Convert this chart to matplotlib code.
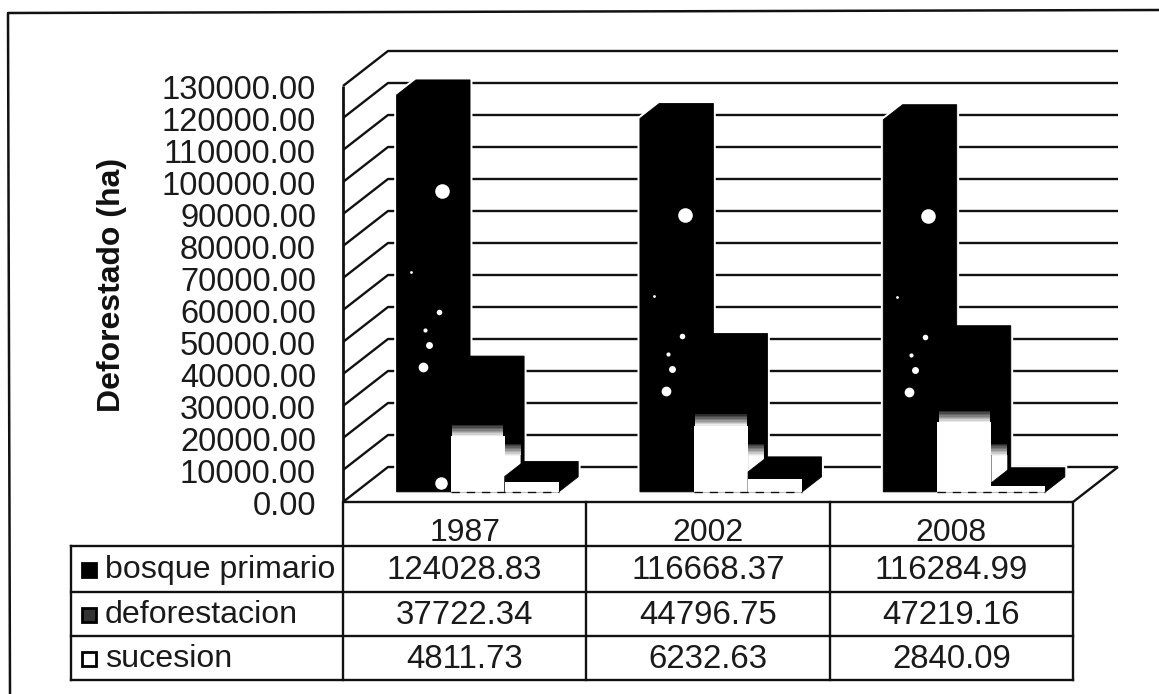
import matplotlib
matplotlib.use('Agg')
import matplotlib.pyplot as plt
from matplotlib.patches import Polygon

years = ['1987', '2002', '2008']
series = ['bosque primario', 'deforestacion', 'sucesion']
bosque = [124028.83, 116668.37, 116284.99]
deforestacion = [37722.34, 44796.75, 47219.16]
sucesion = [4811.73, 6232.63, 2840.09]
yticks = list(range(0, 130001, 10000))

W, H = 1159, 694
plt.rcParams['font.family'] = ['Liberation Sans', 'DejaVu Sans']
ink = '#111111'
txt = '#1a1a1a'

fig = plt.figure(figsize=(W / 100, H / 100), dpi=100)


def box(l, t, r, b):
    return [l / W, 1 - b / H, (r - l) / W, (b - t) / H]


# scanned frame, only top and left survive
bg = fig.add_axes([0, 0, 1, 1])
bg.set_xlim(0, W)
bg.set_ylim(H, 0)
bg.axis('off')
bg.plot([W, 8, 10], [10, 13, H], color=ink, lw=1.8)

# front plane of the 3d box: x in categories, y in hectares
ax = fig.add_axes(box(343, 86, 1073, 502))
ax.set_xlim(0, 3)
ax.set_ylim(0, 130000)
ax.axis('off')

PX = 243.33  # pixels per category
PY = 3.2 / 1000  # pixels per hectare
DX = 45 / PX
DY = 35 / PY


def pt(x, y, d):
    return (x + d * DX, y + d * DY)


def line(pts, lw=1.7, z=1):
    xs, ys = zip(*pts)
    ax.plot(xs, ys, color=ink, lw=lw, clip_on=False, solid_capstyle='butt', zorder=z)


def poly(pts, fc, z, ec='none', lw=0):
    ax.add_patch(Polygon(pts, closed=True, fc=fc, ec=ec, lw=lw, clip_on=False, zorder=z))


# walls
for v in yticks:
    line([pt(0, v, 0), pt(0, v, 1), pt(3, v, 1)])
line([pt(0, 0, 0), pt(0, 130000, 0)], lw=2)
line([pt(0, 0, 0), pt(3, 0, 0), pt(3, 0, 1)])

# bars
gap = 1 / 6
bw = 2 / 9
d0, d1 = 0.29, 0.72


def outline(x, v):
    l, r = x, x + bw
    return [pt(l, 0, d0), pt(r, 0, d0), pt(r, 0, d1), pt(r, v, d1), pt(l, v, d1), pt(l, v, d0)]


def cuboid(x, v, z):
    # white halo cuts the grid lines next to the bars, as in the source
    poly(outline(x, v), 'white', 2, ec='white', lw=3.5)
    poly(outline(x, v), 'black', z, ec='black', lw=0.6)


# gradient fill of the middle series came out as black above, white below
def burn(x, top, z):
    l, r = x, x + bw
    poly([pt(l, 0, d0), pt(r, 0, d0), pt(r, top, d0), pt(l, top, d0)], 'white', z)
    n = 8
    step = 450
    for k in range(n):
        a = top + k * step
        g = 0.92 - 0.85 * k / n
        poly([pt(l + 0.006, a, d0), pt(r - 0.006, a, d0), pt(r - 0.006, a + step, d0), pt(l + 0.006, a + step, d0)],
             str(g), z)
    # side face
    r2 = d0 + (d1 - d0) * 0.82
    h = 11500
    sag = (r2 - d0) * DY
    poly([pt(r, 0, d0), pt(r, 0, r2), pt(r, h - sag, r2), pt(r, h, d0)], 'white', z)
    for k in range(n):
        a = h + k * step
        g = 0.9 - 0.85 * k / n
        poly([pt(r, a, d0), pt(r, a - sag, r2), pt(r, a + step - sag, r2), pt(r, a + step, d0)], str(g), z)


# scan chips inside the big bar: pixels from the bar's top left corner
chips = [(45, 96, 10.5), (14, 177, 2), (42, 217, 4), (28, 235, 3), (32, 250, 5), (26, 272, 7)]

for i in range(3):
    x0 = i + gap
    cuboid(x0, bosque[i], 3)
    for dx, dy, ms in chips:
        xc, yc = pt(x0 + dx / PX, bosque[i] - dy / PY, d0)
        ax.plot([xc], [yc], marker='o', ms=ms, mfc='white', mec='none', clip_on=False, zorder=4)
    cuboid(x0 + bw, deforestacion[i], 5)
    burn(x0 + bw, deforestacion[i] * 0.46, 6)
    cuboid(x0 + 2 * bw, sucesion[i], 7)
    # white foot of the third bar
    l3, r3 = x0 + 2 * bw, x0 + 3 * bw
    foot = sucesion[i] * 0.65
    poly([pt(l3, 0, d0), pt(r3, 0, d0), pt(r3, foot, d0), pt(l3, foot, d0)], 'white', 8)
    xs, ys = zip(pt(x0 + bw, 0, d0), pt(r3, 0, d0))
    ax.plot(xs, ys, color=ink, lw=1, ls=(0, (6, 5)), clip_on=False, zorder=9)

xc, yc = pt(gap + 44 / PX, bosque[0] - 388 / PY, d0)
ax.plot([xc], [yc], marker='o', ms=9, mfc='white', mec='none', clip_on=False, zorder=4)

# y tick labels
lab = fig.add_axes(box(316, 87, 317, 503))
lab.set_xlim(0, 1)
lab.set_ylim(0, 130000)
for s in lab.spines.values():
    s.set_visible(False)
lab.set_xticks([])
lab.set_yticks(yticks)
lab.set_yticklabels(['%.2f' % v for v in yticks], fontsize=23.5, color=txt)
lab.tick_params(axis='y', length=0, pad=0)
lab.patch.set_alpha(0)

fig.text(112 / W, 1 - 285 / H, 'Deforestado (ha)', rotation=90, ha='center', va='center',
         fontsize=23, fontweight='bold', color=ink)

# data table underneath
tb = fig.add_axes(box(343, 502, 1073, 680))
tb.set_xlim(0, 3)
tb.set_ylim(4, 0)
tb.axis('off')
rows = [bosque, deforestacion, sucesion]
edges = [0, 44 / 178 * 4, 90 / 178 * 4, 134 / 178 * 4, 4]
left = -272 / PX
for e in edges[1:]:
    tb.plot([left, 3], [e, e], color=ink, lw=1.7, clip_on=False)
for c in range(4):
    tb.plot([c, c], [0, 4], color=ink, lw=1.7, clip_on=False)
tb.plot([left, left], [edges[1], 4], color=ink, lw=1.7, clip_on=False)
for c, y in enumerate(years):
    tb.text(c + 0.5, 0.69, y, ha='center', va='center', fontsize=23, color=txt, clip_on=False)
marks = ['black', '#333333', 'white']
for r, vals in enumerate(rows):
    ym = (edges[r + 1] + edges[r + 2]) / 2 + 0.03
    for c, v in enumerate(vals):
        tb.text(c + 0.5, ym, '%.2f' % v, ha='center', va='center', fontsize=23.8, color=txt)
    tb.text(-238 / PX, ym, series[r], ha='left', va='center', fontsize=23.1, color=txt)
    tb.plot([-254 / PX], [ym], marker='s', ms=10.5, mfc=marks[r], mec='black', mew=2, clip_on=False)

fig.savefig('out.png', dpi=100)
